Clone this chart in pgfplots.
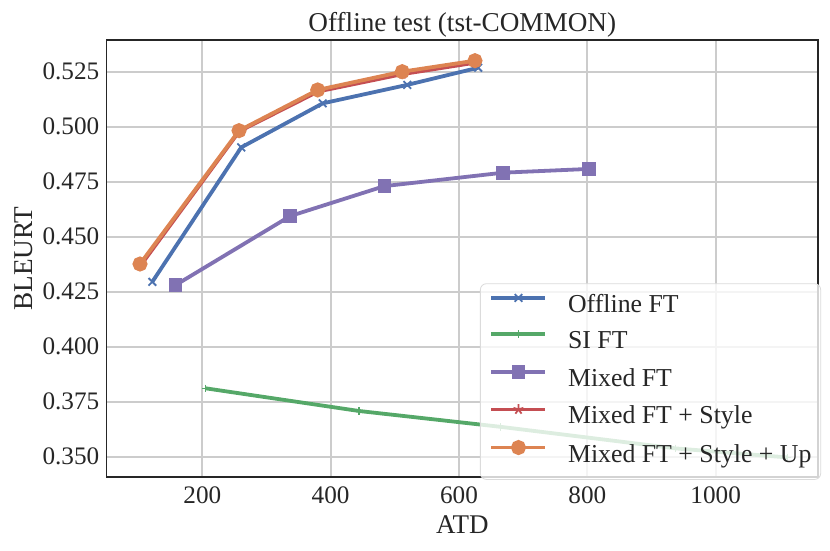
\documentclass[border=0pt]{standalone}
\usepackage{fontspec}
\setmainfont{Liberation Serif}
\usepackage{pgfplots}
\pgfplotsset{compat=1.18}
\definecolor{cblue}{HTML}{4C72B0}
\definecolor{cgreen}{HTML}{55A868}
\definecolor{cpurple}{HTML}{8172B3}
\definecolor{cred}{HTML}{C44E52}
\definecolor{corange}{HTML}{DD8452}
\definecolor{gridc}{HTML}{CCCCCC}
\definecolor{txt}{HTML}{262626}
\begin{document}
\begin{tikzpicture}[x=1pt,y=1pt]
\useasboundingbox (0,0) rectangle (415,275.5);
\begin{axis}[
  at={(53.35pt,37pt)}, anchor=south west,
  scale only axis, width=355.65pt, height=218.5pt,
  xmin=51, xmax=1159.5, ymin=0.3408, ymax=0.5394,
  xtick={200,400,600,800,1000},
  ytick={0.350,0.375,0.400,0.425,0.450,0.475,0.500,0.525},
  scaled y ticks=false, scaled x ticks=false,
  xticklabel style={/pgf/number format/set thousands separator={}},
  yticklabel style={/pgf/number format/fixed,/pgf/number format/fixed zerofill,/pgf/number format/precision=3},
  /pgf/number format/assume math mode=true,
  grid=major, major grid style={draw=gridc, line width=1pt},
  major tick length=0pt,
  axis line style={draw=txt, line width=0.6pt},
  tick label style={font=\fontsize{12.6}{14}\selectfont, text=txt},
  xticklabel style={anchor=north, inner sep=0pt, yshift=-4.5pt},
  yticklabel style={anchor=east, inner sep=0pt, xshift=-3.5pt},
  xlabel={ATD},
  xlabel style={at={(axis description cs:0.5,-0.1288)}, anchor=base, inner sep=0pt, font=\fontsize{13.5}{16}\selectfont, text=txt},
  ylabel={BLEURT},
  ylabel style={at={(axis description cs:-0.1036,0.5)}, anchor=south, inner sep=0pt, font=\fontsize{13.6}{16}\selectfont, text=txt},
  title={Offline test (tst-COMMON)},
  every axis title shift=0pt,
  title style={at={(axis description cs:0.5,1.019)}, anchor=base, inner sep=0pt, font=\fontsize{13.6}{16}\selectfont, text=txt},
  legend cell align=left,
  legend style={at={(0.5248,0.4432)}, anchor=north west, fill=white, fill opacity=0.8, draw opacity=1, text opacity=1,
    draw=black!14, rounded corners=3pt, font=\fontsize{12.9}{15}\selectfont, text=txt,
    row sep=5.5pt, column sep=10.35pt, inner xsep=4.6pt, inner ysep=5.2pt,
    nodes={inner sep=0pt, text height=9pt, text depth=3.5pt}},
  legend image code/.code={\draw[mark repeat=2,mark phase=2,#1,fill opacity=1,draw opacity=1] plot coordinates {(0pt,4.5pt) (13.5pt,4.5pt) (27pt,4.5pt)};},
]
\addplot[cblue, line width=1.9pt, mark=x, mark size=2.7pt, mark options={solid, line width=0.9pt}]
  coordinates {(122.1,0.4295) (260.7,0.4906) (387.6,0.5106) (519.4,0.5190) (630.0,0.5268)};
\addlegendentry{Offline FT}
\addplot[cgreen, line width=1.9pt, mark=+, mark size=1.9pt, mark options={solid, line width=0.6pt}]
  coordinates {(205.3,0.3811) (444.1,0.3708) (664.9,0.3636) (937.6,0.3538) (1111.5,0.3497)};
\addlegendentry{SI FT}
\addplot[cpurple, line width=1.9pt, mark=square*, mark size=2.5pt, mark options={solid}]
  coordinates {(158.2,0.4280) (337.1,0.4594) (483.9,0.4730) (669.0,0.4791) (802.2,0.4808)};
\addlegendentry{Mixed FT}
\addplot[cred, line width=1.9pt, mark=star, mark size=2.6pt, mark options={solid, line width=0.9pt}]
  coordinates {(103.5,0.4368) (257.5,0.4979) (380.5,0.5160) (512.0,0.5239) (625.5,0.5291)};
\addlegendentry{Mixed FT + Style}
\addplot[corange, line width=1.9pt, mark=*, mark size=2.8pt, mark options={solid}]
  coordinates {(102.9,0.4376) (257.2,0.4982) (379.8,0.5167) (511.6,0.5250) (624.9,0.5300)};
\addlegendentry{Mixed FT + Style + Up}
\end{axis}
\end{tikzpicture}
\end{document}
